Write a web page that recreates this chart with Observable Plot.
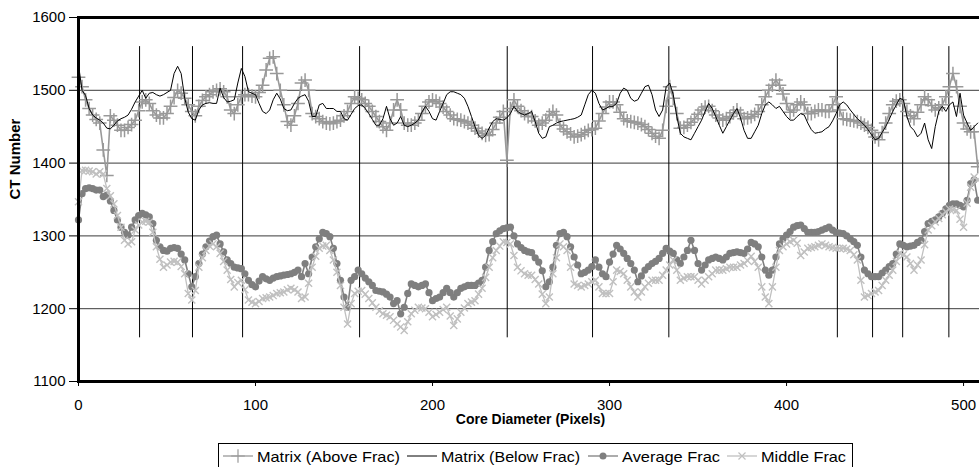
<!DOCTYPE html>
<html><head><meta charset="utf-8">
<script src="https://cdn.jsdelivr.net/npm/d3@7"></script>
<script src="https://cdn.jsdelivr.net/npm/@observablehq/plot@0.6"></script>
<style>
html,body{margin:0;padding:0;background:#fff;overflow:hidden;width:979px;height:467px;}
#chart{position:relative;width:1000px;height:467px;overflow:hidden;font-family:"Liberation Sans",Arial,sans-serif;}
#chart svg{display:block;}
</style></head><body><div id="chart"></div>
<script>
// pixel positions along the core diameter (every 2nd pixel)
const pixelX = d3.range(0, 509, 2);

const matrixAbove = [
1518,1505,1487,1475,1466,1460,1455,1418,1383,1465,
1459,1452,1445,1445,1449,1453,1459,1472,1484,1487,
1482,1472,1466,1462,1462,1468,1478,1490,1500,1496,
1489,1480,1471,1465,1478,1486,1491,1494,1498,1500,
1502,1498,1491,1473,1468,1480,1491,1494,1494,1492,
1491,1497,1507,1528,1544,1546,1523,1500,1480,1457,
1452,1465,1482,1510,1514,1500,1468,1464,1461,1457,
1455,1454,1455,1457,1459,1465,1471,1482,1491,1489,
1487,1482,1478,1471,1464,1457,1450,1445,1455,1473,
1487,1473,1455,1452,1452,1455,1459,1468,1478,1484,
1487,1485,1482,1477,1471,1466,1461,1460,1459,1457,
1455,1452,1448,1444,1441,1438,1439,1446,1455,1463,
1471,1404,1475,1487,1478,1472,1468,1464,1464,1458,
1452,1455,1459,1466,1471,1466,1452,1447,1443,1440,
1436,1437,1439,1442,1445,1446,1448,1458,1468,1477,
1484,1484,1480,1470,1461,1458,1457,1456,1455,1453,
1450,1446,1441,1437,1434,1445,1478,1505,1489,1468,
1448,1449,1452,1456,1461,1467,1473,1477,1478,1472,
1466,1462,1459,1461,1464,1469,1473,1468,1461,1462,
1464,1467,1471,1480,1491,1500,1507,1514,1507,1495,
1482,1470,1473,1480,1484,1480,1468,1468,1471,1473,
1473,1471,1471,1480,1491,1473,1461,1460,1459,1458,
1457,1455,1452,1449,1445,1436,1432,1442,1455,1468,
1480,1485,1487,1482,1471,1465,1461,1470,1480,1491,
1487,1479,1473,1476,1480,1491,1505,1523,1505,1478,
1455,1447,1443,1443,1395];

const matrixBelow = [
1535,1500,1493,1475,1466,1462,1459,1455,1448,1447,
1452,1458,1461,1463,1466,1474,1484,1492,1500,1489,
1496,1497,1494,1492,1494,1497,1500,1523,1533,1523,
1489,1470,1461,1459,1473,1480,1482,1483,1482,1482,
1503,1490,1484,1485,1487,1510,1530,1519,1498,1496,
1494,1482,1471,1468,1473,1487,1496,1488,1475,1472,
1473,1482,1489,1492,1494,1485,1464,1464,1480,1482,
1475,1475,1475,1471,1471,1461,1459,1467,1475,1479,
1480,1475,1468,1460,1452,1452,1461,1478,1461,1452,
1455,1464,1452,1450,1452,1455,1459,1470,1478,1471,
1461,1459,1471,1482,1494,1498,1498,1496,1494,1489,
1478,1464,1450,1438,1434,1438,1448,1457,1461,1460,
1459,1462,1468,1478,1471,1468,1466,1468,1471,1457,
1441,1434,1436,1450,1452,1455,1457,1458,1459,1460,
1461,1463,1466,1480,1494,1500,1496,1482,1473,1475,
1478,1478,1482,1496,1503,1500,1489,1485,1487,1496,
1505,1507,1494,1473,1464,1473,1505,1510,1494,1464,
1441,1436,1434,1432,1441,1450,1459,1471,1482,1475,
1464,1452,1441,1450,1459,1468,1475,1462,1445,1434,
1434,1443,1452,1468,1480,1484,1480,1475,1478,1471,
1464,1459,1459,1464,1468,1466,1455,1446,1441,1442,
1443,1447,1450,1458,1468,1480,1484,1480,1473,1467,
1461,1457,1452,1446,1439,1432,1434,1442,1450,1460,
1471,1480,1489,1487,1464,1450,1445,1436,1441,1455,
1432,1420,1450,1471,1478,1471,1480,1484,1464,1496,
1466,1455,1445,1450,1455];

const averageFrac = [
1322,1358,1365,1366,1365,1363,1363,1354,1356,1348,
1335,1322,1312,1305,1301,1312,1322,1328,1331,1329,
1326,1317,1294,1285,1280,1279,1283,1284,1283,1275,
1267,1248,1230,1244,1262,1275,1285,1293,1299,1301,
1289,1278,1267,1262,1257,1256,1255,1248,1239,1233,
1230,1238,1244,1241,1239,1242,1244,1245,1246,1247,
1248,1250,1253,1244,1262,1248,1271,1285,1296,1305,
1303,1299,1283,1262,1239,1216,1202,1239,1244,1253,
1248,1242,1237,1232,1225,1224,1223,1220,1216,1207,
1211,1193,1202,1221,1234,1232,1230,1232,1234,1222,
1211,1214,1216,1222,1228,1222,1216,1222,1228,1230,
1232,1232,1232,1235,1239,1257,1280,1292,1303,1307,
1310,1311,1312,1300,1289,1284,1280,1278,1277,1270,
1264,1252,1230,1237,1257,1287,1303,1305,1299,1285,
1271,1260,1248,1250,1253,1258,1267,1257,1248,1244,
1264,1275,1287,1282,1276,1269,1262,1253,1237,1245,
1253,1258,1262,1265,1269,1276,1283,1279,1276,1267,
1262,1271,1280,1294,1280,1262,1253,1260,1267,1269,
1271,1269,1267,1271,1276,1277,1278,1277,1276,1282,
1291,1289,1285,1271,1253,1246,1253,1271,1289,1296,
1301,1306,1312,1314,1315,1310,1305,1305,1305,1306,
1308,1310,1312,1308,1305,1304,1303,1300,1296,1292,
1287,1271,1253,1248,1244,1244,1244,1249,1253,1258,
1262,1275,1289,1287,1285,1286,1287,1291,1294,1306,
1317,1320,1322,1326,1331,1337,1342,1344,1344,1342,
1340,1349,1372,1377,1349];

const middleFrac = [
1347,1390,1390,1389,1388,1385,1388,1385,1365,1355,
1344,1328,1312,1294,1289,1292,1308,1315,1319,1320,
1319,1305,1285,1268,1257,1260,1264,1265,1264,1258,
1248,1221,1212,1225,1257,1270,1280,1286,1289,1285,
1276,1265,1253,1240,1230,1236,1239,1226,1212,1209,
1207,1210,1214,1215,1216,1218,1221,1222,1223,1226,
1228,1226,1223,1214,1216,1235,1257,1272,1283,1286,
1287,1280,1267,1250,1232,1202,1179,1207,1221,1224,
1225,1220,1214,1208,1202,1197,1193,1191,1189,1184,
1179,1175,1170,1182,1193,1198,1202,1201,1200,1195,
1189,1192,1195,1199,1202,1190,1177,1186,1195,1201,
1207,1209,1211,1220,1228,1243,1257,1270,1280,1286,
1292,1291,1289,1273,1257,1252,1248,1246,1246,1240,
1234,1220,1207,1216,1248,1270,1289,1285,1280,1257,
1234,1232,1230,1232,1234,1237,1239,1230,1221,1221,
1221,1237,1253,1251,1248,1239,1230,1223,1216,1223,
1230,1235,1239,1239,1239,1246,1253,1260,1267,1253,
1239,1242,1244,1244,1244,1239,1234,1239,1244,1248,
1253,1253,1253,1255,1257,1257,1257,1260,1262,1266,
1272,1265,1257,1230,1216,1207,1230,1257,1280,1285,
1289,1292,1294,1290,1273,1278,1283,1284,1285,1287,
1289,1287,1285,1284,1283,1283,1283,1282,1280,1274,
1267,1239,1216,1218,1221,1223,1225,1232,1239,1246,
1253,1265,1276,1274,1271,1262,1253,1260,1267,1288,
1308,1314,1319,1324,1329,1333,1337,1336,1335,1323,
1312,1345,1367,1381,1377];

// fracture boundary markers (vertical lines)
const fracLines = [34.5, 64.4, 92.7, 158.8, 242.2, 290.4, 333.5, 428.7, 448.6, 465.6, 491.7];
const fracSpan = [1160, 1560];
const gridY = [1200, 1300, 1400, 1500];
const yTicks = [1100, 1200, 1300, 1400, 1500, 1600];
const xTicks = [0, 100, 200, 300, 400, 500];
const seriesNames = ["Matrix (Above Frac)", "Matrix (Below Frac)", "Average Frac", "Middle Frac"];
const seriesColors = ["#999999", "#000000", "#7f7f7f", "#c0c0c0"];
const xTitle = "Core Diameter (Pixels)";
const yTitle = "CT Number";

const rows = pixelX.map((x, i) => ({x, above: matrixAbove[i], below: matrixBelow[i], avg: averageFrac[i], mid: middleFrac[i]}));

const plot = Plot.plot({
  width: 1000, height: 440,
  marginLeft: 78, marginRight: 18, marginTop: 17, marginBottom: 59,
  style: {fontFamily: "Liberation Sans, Arial, sans-serif", fontSize: "15px", background: "transparent", maxWidth: "none", color: "#000"},
  x: {domain: [0, 510.7]},
  y: {domain: [1100, 1600]},
  marks: [
    Plot.ruleY(gridY, {stroke: "#3a3a3a", strokeWidth: 1}),
    Plot.ruleX(fracLines, {y1: fracSpan[0], y2: fracSpan[1], stroke: "#000", strokeWidth: 1}),
    Plot.line(rows, {x: "x", y: "above", stroke: seriesColors[0], strokeWidth: 1.6}),
    Plot.dot(rows, {x: "x", y: "above", symbol: "plus", r: 4.5, stroke: seriesColors[0], strokeWidth: 1.5}),
    Plot.line(rows, {x: "x", y: "below", stroke: seriesColors[1], strokeWidth: 1}),
    Plot.line(rows, {x: "x", y: "avg", stroke: seriesColors[2], strokeWidth: 1.6}),
    Plot.dot(rows, {x: "x", y: "avg", r: 3.6, fill: seriesColors[2], stroke: "none"}),
    Plot.line(rows, {x: "x", y: "mid", stroke: seriesColors[3], strokeWidth: 1.3}),
    Plot.dot(rows, {x: "x", y: "mid", symbol: "times", r: 3.3, stroke: seriesColors[3], strokeWidth: 1.4}),
    Plot.frame({stroke: "#000", strokeWidth: 3}),
    Plot.axisX({ticks: xTicks, tickSize: 5, tickPadding: 13, label: null, tickFormat: "d", fontSize: 15}),
    Plot.axisY({ticks: yTicks, tickSize: 9, tickPadding: 4, label: null, tickFormat: "d", fontSize: 15}),
    Plot.text([xTitle], {frameAnchor: "bottom", dy: 42, fontWeight: "bold", fontSize: 14}),
    Plot.text([yTitle], {frameAnchor: "left", dx: -63, rotate: -90, fontWeight: "bold", fontSize: 15})
  ]
});
document.getElementById("chart").appendChild(plot);

// legend below the plot
const leg = d3.select("#chart").append("svg").attr("width", 979).attr("height", 27)
  .style("font-family", "Liberation Sans, Arial, sans-serif");
leg.append("rect").attr("x", 218.5).attr("y", 3.5).attr("width", 634).attr("height", 40)
  .attr("fill", "#fff").attr("stroke", "#000").attr("stroke-width", 1);
const items = [
  {line: [223, 253], text: 257, len: 143, sym: "plus"},
  {line: [407, 437], text: 441, len: 139, sym: null},
  {line: [588, 618], text: 622, len: 98, sym: "circle"},
  {line: [727, 757], text: 761, len: 85, sym: "times"}
];
const cy = 16;
items.forEach((it, i) => {
  const c = seriesColors[i];
  leg.append("line").attr("x1", it.line[0]).attr("x2", it.line[1]).attr("y1", cy).attr("y2", cy)
    .attr("stroke", c).attr("stroke-width", i === 1 ? 1 : 1.3);
  const mx = (it.line[0] + it.line[1]) / 2;
  if (it.sym === "circle") {
    leg.append("circle").attr("cx", mx).attr("cy", cy).attr("r", 3.5).attr("fill", c);
  } else if (it.sym) {
    const s = it.sym === "plus" ? d3.symbolPlus : d3.symbolTimes;
    leg.append("path").attr("d", d3.symbol(s, it.sym === "plus" ? 63 : 34)()).attr("transform", `translate(${mx},${cy})`)
      .attr("fill", "none").attr("stroke", c).attr("stroke-width", 1.2);
  }
  leg.append("text").attr("x", it.text).attr("y", cy).attr("dominant-baseline", "central")
    .attr("font-size", 15).attr("textLength", it.len).attr("lengthAdjust", "spacingAndGlyphs")
    .attr("fill", "#000").text(seriesNames[i]);
});
</script></body></html>
